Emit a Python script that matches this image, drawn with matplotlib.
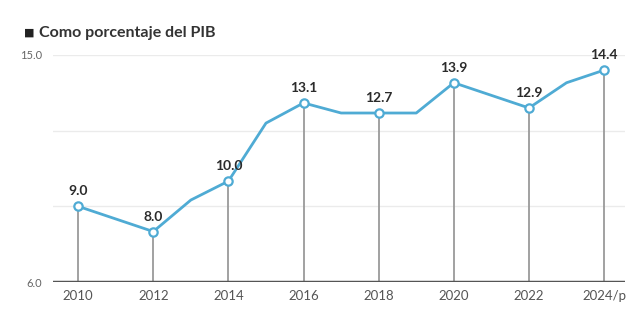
import matplotlib
matplotlib.use("Agg")
import matplotlib.pyplot as plt

years = [2010, 2011, 2012, 2013, 2014, 2015, 2016, 2017, 2018, 2019, 2020, 2021, 2022, 2023, 2024]
values = [9.0, 8.5, 8.0, 9.25, 10.0, 12.3, 13.1, 12.7, 12.7, 12.7, 13.9, 13.4, 12.9, 13.9, 14.4]
label_years = [2010, 2012, 2014, 2016, 2018, 2020, 2022, 2024]
label_values = [9.0, 8.0, 10.0, 13.1, 12.7, 13.9, 12.9, 14.4]
tick_labels = ["2010", "2012", "2014", "2016", "2018", "2020", "2022", "2024/p"]
title = "Como porcentaje del PIB"

plt.rcParams['font.family'] = ['Lato', 'DejaVu Sans']

fig = plt.figure(figsize=(6.27, 3.17), dpi=100)
ax = fig.add_axes([0.0845, 0.1104, 0.9125, 0.7161])
ax.set_xlim(2009.33, 2024.56)
ax.set_ylim(6, 15)

for g in [9, 12, 15]:
    ax.axhline(g, color="#ebebeb", lw=1, zorder=0)

ax.vlines(label_years, 6, label_values, color="#9a9a9a", lw=1.3, zorder=1)
ax.plot(years, values, color="#4fabd4", lw=2, zorder=2)
ax.plot(label_years, label_values, 'o', ms=6, mfc="white", mec="#4fabd4", mew=1.6, zorder=3)

for x, v in zip(label_years, label_values):
    ax.annotate(f"{v:.1f}", (x, v), xytext=(0, 6.5), textcoords="offset points",
                ha="center", va="bottom", fontsize=10, fontweight="bold", color="#2b2b2b")

ax.axhline(6, color="#555555", lw=2.5, zorder=4)

for s in ax.spines.values():
    s.set_visible(False)
ax.set_xticks(label_years)
ax.set_xticklabels(tick_labels, fontsize=9.5, color="#555555")
ax.set_yticks([6, 15])
ax.set_yticklabels(["6.0", "15.0"], fontsize=8, color="#666666")
ax.tick_params(axis="both", length=0)
ax.tick_params(axis="x", pad=6)
ax.tick_params(axis="y", pad=8)

fig.text(0.038, 0.897, "■", fontsize=8, color="#222222", va="center", ha="left", family="DejaVu Sans")
fig.text(0.062, 0.897, title, fontsize=11.5, fontweight="bold", color="#333333", va="center", ha="left")

fig.savefig("out.png", dpi=100, facecolor="white")
